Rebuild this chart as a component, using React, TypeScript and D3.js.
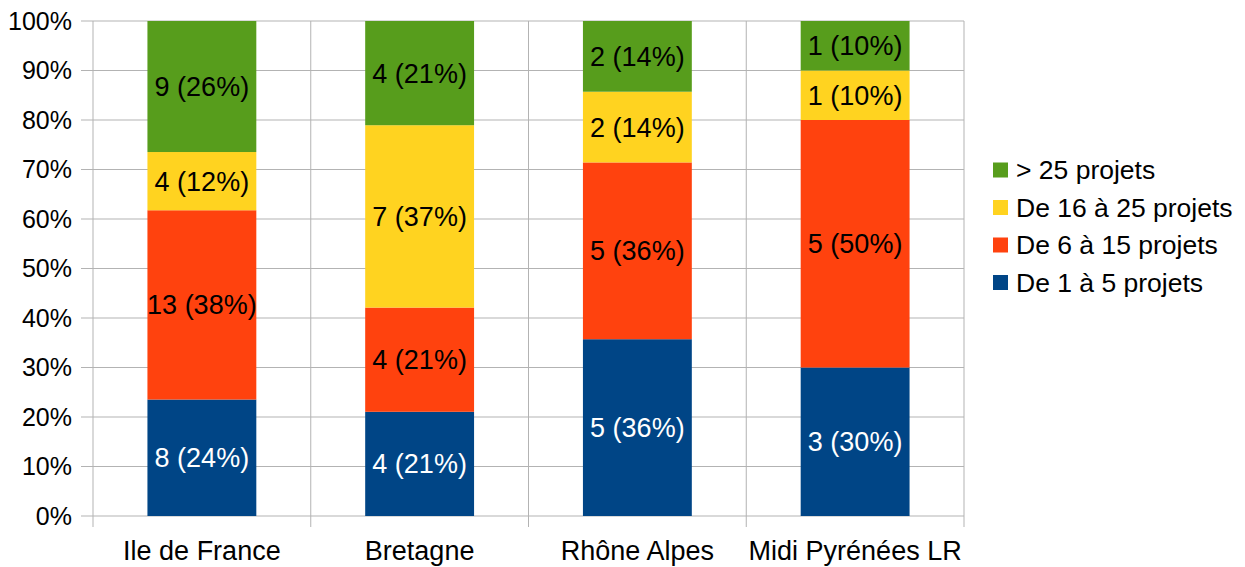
import React from "react";
import * as d3 from "d3";

const categories = ["Ile de France", "Bretagne", "Rhône Alpes", "Midi Pyrénées LR"];
const seriesNames = ["De 1 à 5 projets", "De 6 à 15 projets", "De 16 à 25 projets", "> 25 projets"];
const s1 = [8, 4, 5, 3];
const s2 = [13, 4, 5, 5];
const s3 = [4, 7, 2, 1];
const s4 = [9, 4, 2, 1];
const colors = ["#004586", "#ff420e", "#ffd320", "#579d1c"];
const labelColors = ["#ffffff", "#000000", "#000000", "#000000"];
const yTicks = [0, 0.1, 0.2, 0.3, 0.4, 0.5, 0.6, 0.7, 0.8, 0.9, 1];

const W = 1245, H = 567;
const left = 93, right = 964, top = 21, bottom = 516;
const font = "'Liberation Sans', Arial, sans-serif";

export default function App() {
  const series = [s1, s2, s3, s4];
  const x = d3.scaleBand<string>().domain(categories).range([left, right]).paddingInner(0.5).paddingOuter(0.25);
  const y = d3.scaleLinear().domain([0, 1]).range([bottom, top]);
  const xOuter = d3.scaleBand<string>().domain(categories).range([left, right]);
  const totals = categories.map((_, i) => series.reduce((a, s) => a + s[i], 0));
  const table = categories.map((c, i) => {
    const o: any = { cat: c };
    series.forEach((s, k) => (o["k" + k] = s[i] / totals[i]));
    return o;
  });
  const stacked = d3.stack().keys(series.map((_, k) => "k" + k))(table);

  return (
    <svg width={W} height={H} style={{ position: "absolute", left: 0, top: 0, background: "#fff" }} fontFamily={font}>
      {yTicks.map((t) => (
        <g key={t}>
          <line x1={left - 12} x2={right} y1={y(t)} y2={y(t)} stroke="#b3b3b3" strokeWidth={1} />
          <text x={72} y={y(t)} dy="0.35em" textAnchor="end" fontSize={25} fill="#000">
            {d3.format(".0%")(t)}
          </text>
        </g>
      ))}
      <line x1={left} x2={left} y1={top} y2={bottom + 11} stroke="#b3b3b3" />
      {categories.map((c, i) => (
        <line key={c} x1={(xOuter(c) as number) + xOuter.bandwidth()} x2={(xOuter(c) as number) + xOuter.bandwidth()} y1={top} y2={bottom + 11} stroke="#b3b3b3" />
      ))}
      {stacked.map((layer, k) =>
        layer.map((d, i) => (
          <rect key={k + "-" + i} x={x(categories[i])} width={x.bandwidth()} y={y(d[1])} height={y(d[0]) - y(d[1])} fill={colors[k]} />
        ))
      )}
      {stacked.map((layer, k) =>
        layer.map((d, i) => (
          <text key={"t" + k + "-" + i} x={(x(categories[i]) as number) + x.bandwidth() / 2} y={(y(d[0]) + y(d[1])) / 2} dy="0.35em" textAnchor="middle" fontSize={27} fill={labelColors[k]}>
            {`${series[k][i]} (${Math.round((series[k][i] / totals[i]) * 100)}%)`}
          </text>
        ))
      )}
      {categories.map((c) => (
        <text key={"x" + c} x={(x(c) as number) + x.bandwidth() / 2} y={551} dy="0.35em" textAnchor="middle" fontSize={27} fill="#000">
          {c}
        </text>
      ))}
      {[3, 2, 1, 0].map((k, j) => (
        <g key={"l" + k} transform={`translate(993, ${170 + j * 37.5})`}>
          <rect x={0} y={-7.5} width={15} height={15} fill={colors[k]} />
          <text x={23} y={0} dy="0.35em" fontSize={26.5} fill="#000">{seriesNames[k]}</text>
        </g>
      ))}
    </svg>
  );
}
